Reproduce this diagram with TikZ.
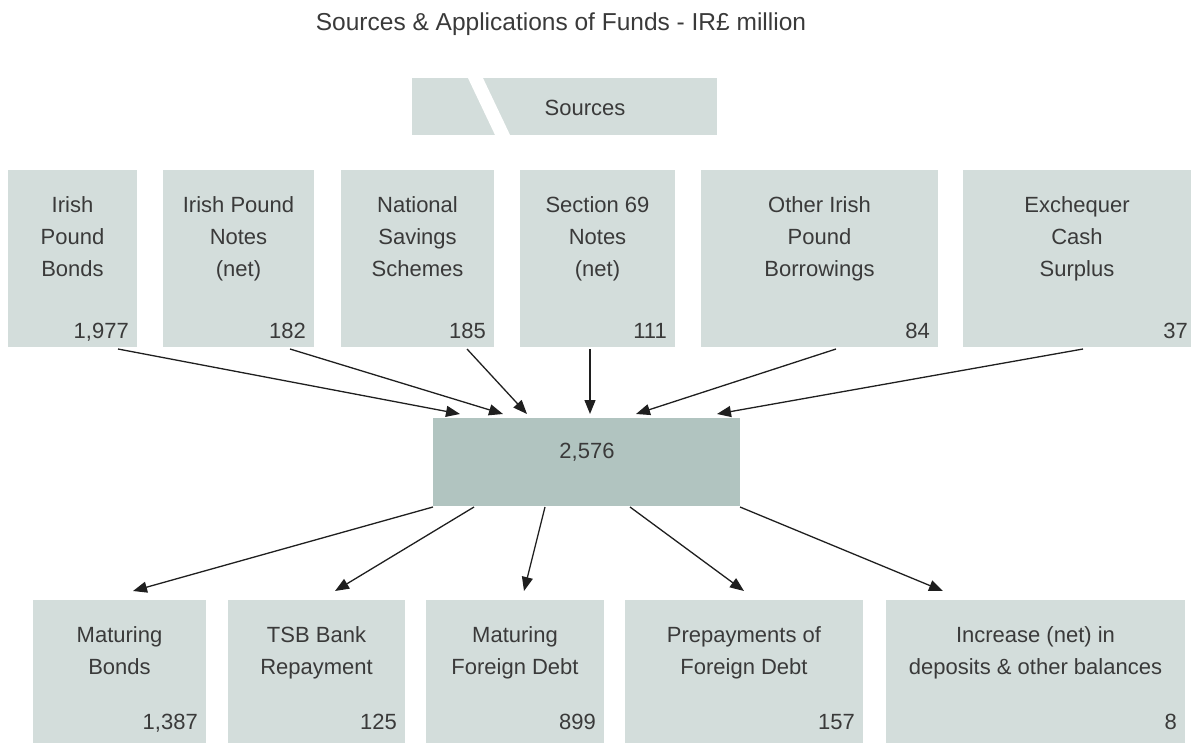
\documentclass[tikz,border=0pt]{standalone}
\usepackage{fontspec}
\setmainfont{Liberation Sans}
\usetikzlibrary{arrows.meta}
\definecolor{boxgrey}{RGB}{211,221,219}
\definecolor{totalgrey}{RGB}{177,196,192}
\definecolor{inkgrey}{RGB}{58,58,58}

\begin{document}
\begin{tikzpicture}[x=1pt,y=-1pt,
    fundbox/.style={fill=boxgrey, anchor=north west, inner sep=0pt, outer sep=0pt},
    totalbox/.style={fill=totalgrey, anchor=north west, inner sep=0pt, outer sep=0pt},
    boxtext/.style={anchor=north, align=center, inner sep=0pt, text=inkgrey, font=\fontsize{22}{32}\selectfont},
    boxnum/.style={anchor=base east, inner sep=0pt, text=inkgrey, font=\fontsize{22}{32}\selectfont},
    flow/.style={-{Triangle[length=14pt,width=11pt]}, line width=1.3pt, draw=black!88}]
    \useasboundingbox (0,0) rectangle (1191,743);

    \node[anchor=base, inner sep=0pt, text=inkgrey, font=\fontsize{24.5}{28}\selectfont] (title) at (561,31) {Sources \& Applications of Funds - IR£ million};

    % heading
    \node[fundbox, minimum width=305, minimum height=57] (srchead) at (412,78) {};
    \fill[white] (467,76) -- (482,76) -- (511,137) -- (496,137) -- cycle;
    \node[inner sep=0pt, text=inkgrey, font=\fontsize{22}{29}\selectfont] (srclbl) at (585,108) {Sources};

    % sources
    \node[fundbox, minimum width=129, minimum height=177] (bonds) at (8,170) {};
    \node[fundbox, minimum width=151, minimum height=177] (notes) at (163,170) {};
    \node[fundbox, minimum width=153, minimum height=177] (savings) at (341,170) {};
    \node[fundbox, minimum width=155, minimum height=177] (sec69) at (520,170) {};
    \node[fundbox, minimum width=237, minimum height=177] (otherirl) at (701,170) {};
    \node[fundbox, minimum width=228, minimum height=177] (surplus) at (963,170) {};

    \node[boxtext] (bonds-t) at ([yshift=-26]bonds.north) {Irish\\Pound\\Bonds};
    \node[boxtext] (notes-t) at ([yshift=-26]notes.north) {Irish Pound\\Notes\\(net)};
    \node[boxtext] (savings-t) at ([yshift=-26]savings.north) {National\\Savings\\Schemes};
    \node[boxtext] (sec69-t) at ([yshift=-26]sec69.north) {Section 69\\Notes\\(net)};
    \node[boxtext] (otherirl-t) at ([yshift=-26]otherirl.north) {Other Irish\\Pound\\Borrowings};
    \node[boxtext] (surplus-t) at ([yshift=-26]surplus.north) {Exchequer\\Cash\\Surplus};

    \node[boxnum] (bonds-n) at ([xshift=-8,yshift=-168]bonds.north east) {1,977};
    \node[boxnum] (notes-n) at ([xshift=-8,yshift=-168]notes.north east) {182};
    \node[boxnum] (savings-n) at ([xshift=-8,yshift=-168]savings.north east) {185};
    \node[boxnum] (sec69-n) at ([xshift=-8,yshift=-168]sec69.north east) {111};
    \node[boxnum] (otherirl-n) at ([xshift=-8,yshift=-168]otherirl.north east) {84};
    \node[boxnum] (surplus-n) at ([xshift=-3,yshift=-168]surplus.north east) {37};

    % total
    \node[totalbox, minimum width=307, minimum height=88] (total) at (433,418) {};
    \node[inner sep=0pt, text=inkgrey, font=\fontsize{22}{29}\selectfont] (total-n) at (587,452) {2,576};

    % applications
    \node[fundbox, minimum width=173, minimum height=143] (matbonds) at (33,600) {};
    \node[fundbox, minimum width=177, minimum height=143] (tsb) at (228,600) {};
    \node[fundbox, minimum width=178, minimum height=143] (matdebt) at (426,600) {};
    \node[fundbox, minimum width=238, minimum height=143] (prepay) at (625,600) {};
    \node[fundbox, minimum width=299, minimum height=143] (deposits) at (886,600) {};

    \node[boxtext] (matbonds-t) at ([yshift=-26]matbonds.north) {Maturing\\Bonds};
    \node[boxtext] (tsb-t) at ([yshift=-26]tsb.north) {TSB Bank\\Repayment};
    \node[boxtext] (matdebt-t) at ([yshift=-26]matdebt.north) {Maturing\\Foreign Debt};
    \node[boxtext] (prepay-t) at ([yshift=-26]prepay.north) {Prepayments of\\Foreign Debt};
    \node[boxtext] (deposits-t) at ([yshift=-26]deposits.north) {Increase (net) in\\deposits \& other balances};

    \node[boxnum] (matbonds-n) at ([xshift=-8,yshift=-129]matbonds.north east) {1,387};
    \node[boxnum] (tsb-n) at ([xshift=-8,yshift=-129]tsb.north east) {125};
    \node[boxnum] (matdebt-n) at ([xshift=-8,yshift=-129]matdebt.north east) {899};
    \node[boxnum] (prepay-n) at ([xshift=-8,yshift=-129]prepay.north east) {157};
    \node[boxnum] (deposits-n) at ([xshift=-8,yshift=-129]deposits.north east) {8};

    % flows in
    \draw[flow] ([xshift=45.5,yshift=-2]bonds.south) -- ([xshift=-126.5,yshift=4]total.north);
    \draw[flow] ([xshift=51.5,yshift=-2]notes.south) -- ([xshift=-83.5,yshift=4]total.north);
    \draw[flow] ([xshift=49.5,yshift=-2]savings.south) -- ([xshift=-59.5,yshift=4]total.north);
    \draw[flow] ([xshift=-7.5,yshift=-2]sec69.south) -- ([xshift=3.5,yshift=4]total.north);
    \draw[flow] ([xshift=16.5,yshift=-2]otherirl.south) -- ([xshift=49.5,yshift=4]total.north);
    \draw[flow] ([xshift=6,yshift=-2]surplus.south) -- ([xshift=130.5,yshift=4]total.north);

    % flows out
    \draw[flow] ([yshift=-1]total.south west) -- ([xshift=13.5,yshift=9]matbonds.north);
    \draw[flow] ([xshift=-112.5,yshift=-1]total.south) -- ([xshift=18.5,yshift=9]tsb.north);
    \draw[flow] ([xshift=-41.5,yshift=-1]total.south) -- ([xshift=9,yshift=9]matdebt.north);
    \draw[flow] ([xshift=43.5,yshift=-1]total.south) -- ([yshift=9]prepay.north);
    \draw[flow] ([yshift=-1]total.south east) -- ([xshift=-92.5,yshift=9]deposits.north);
\end{tikzpicture}
\end{document}
